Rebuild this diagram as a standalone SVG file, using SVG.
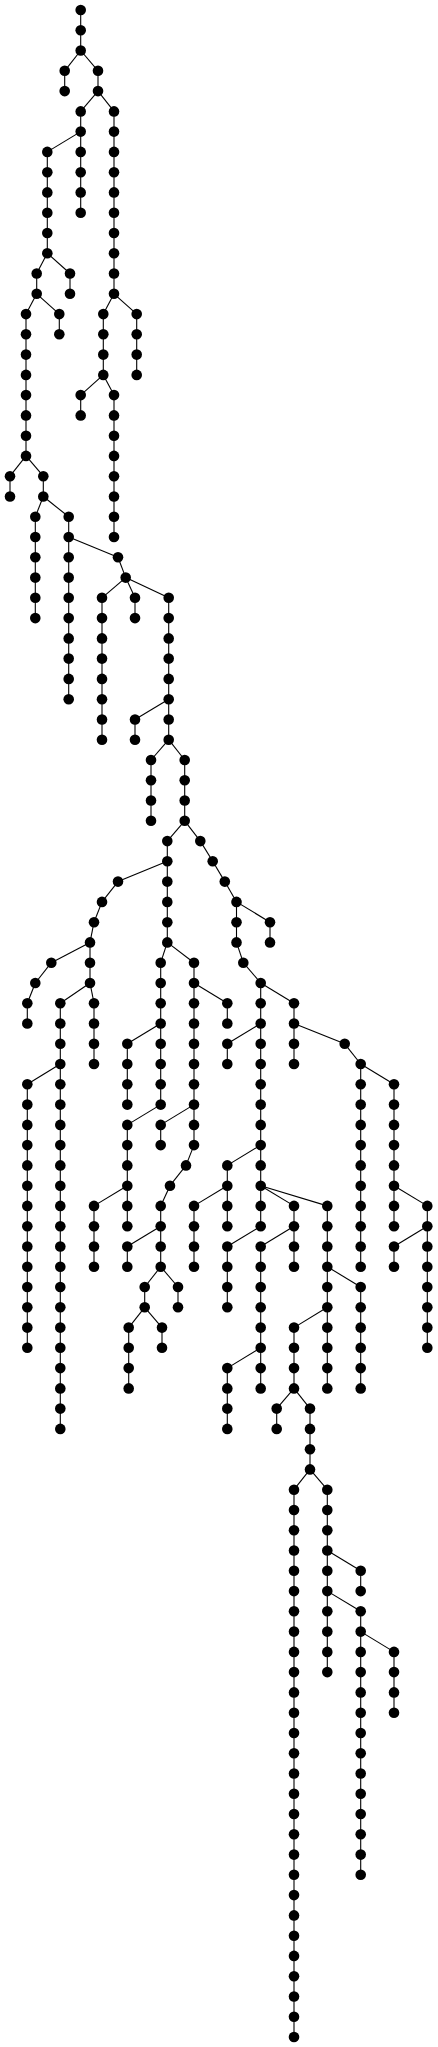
<svg xmlns="http://www.w3.org/2000/svg" width="438" height="2047" viewBox="0 0 438 2047">
<style>
#edges path{stroke:#000;stroke-width:1.1;fill:none}
#nodes circle{fill:#000}
</style>
<rect width="438" height="2047" fill="#fff"/>
<g id="edges">
<path d="M80.7 10V50.5"/><path d="M64.7 70.8V91.1"/><path d="M98 70.8V91.1"/><path d="M80.7 111.4V212.7"/><path d="M114 111.4V293.8"/><path d="M47.3 151.9V253.2"/><path d="M36.7 273.5V293.8"/><path d="M70 273.5V293.8"/><path d="M26 314.1V455.9"/><path d="M59.3 314.1V334.3"/><path d="M10 476.2V496.5"/><path d="M43.3 476.2V496.5"/><path d="M35.3 516.8V618.1"/><path d="M68.7 516.8V699.2"/><path d="M103.3 314.1V374.9"/><path d="M136.7 314.1V374.9"/><path d="M80.7 395.1V415.4"/><path d="M114 395.1V537"/><path d="M102 597.8V739.7"/><path d="M135 597.8V618.1"/><path d="M168.7 597.8V739.7"/><path d="M135 719.5V739.7"/><path d="M151 760V820.8"/><path d="M184.7 760V820.8"/><path d="M167.3 841.1V942.4"/><path d="M236.5 901.9V942.4"/><path d="M270 922.2V942.4"/><path d="M260.7 983V1226.2"/><path d="M294 1003.2V1064"/><path d="M227.3 1043.8V1064"/><path d="M360.7 1064V1266.7"/><path d="M394 1084.3V1226.2"/><path d="M427.3 1205.9V1347.8"/><path d="M394 1246.5V1266.7"/><path d="M227.3 1165.4V1226.2"/><path d="M194 1205.9V1266.7"/><path d="M294 1205.9V1266.7"/><path d="M260.7 1246.5V1388.4"/><path d="M227.3 1368.1V1428.9"/><path d="M327.3 1205.9V1388.4"/><path d="M360.7 1287V1388.4"/><path d="M294 1327.6V1388.4"/><path d="M276.7 1408.6V1428.9"/><path d="M310 1408.6V1469.4"/><path d="M294 1489.7V2037"/><path d="M327.3 1489.7V1672.1"/><path d="M360.7 1570.8V1591.1"/><path d="M360.7 1611.3V1874.8"/><path d="M394 1651.9V1712.7"/><path d="M227.3 1246.5V1307.3"/><path d="M90 942.4V983"/><path d="M27.3 1003.2V1023.5"/><path d="M60.3 1003.2V1428.9"/><path d="M27.3 1084.3V1347.8"/><path d="M94 1003.2V1064"/><path d="M160.7 962.7V1104.6"/><path d="M127.3 1043.8V1104.6"/><path d="M127.3 1124.9V1226.2"/><path d="M94 1205.9V1266.7"/><path d="M194 962.7V1145.1"/><path d="M227.3 1003.2V1023.5"/><path d="M160.7 1124.9V1145.1"/><path d="M160.7 1205.9V1266.7"/><path d="M127.3 1246.5V1266.7"/><path d="M144.7 1287V1307.3"/><path d="M178 1287V1307.3"/><path d="M128.7 1327.6V1388.4"/><path d="M162 1327.6V1347.8"/>
<path d="M80.7 50.5L64.7 70.8"/><path d="M80.7 50.5L98 70.8"/><path d="M98 91.1L80.7 111.4"/><path d="M98 91.1L114 111.4"/><path d="M80.7 131.6L47.3 151.9"/><path d="M47.3 253.2L36.7 273.5"/><path d="M47.3 253.2L70 273.5"/><path d="M36.7 293.8L26 314.1"/><path d="M36.7 293.8L59.3 314.1"/><path d="M26 455.9L10 476.2"/><path d="M26 455.9L43.3 476.2"/><path d="M43.3 496.5L35.3 516.8"/><path d="M43.3 496.5L68.7 516.8"/><path d="M114 293.8L103.3 314.1"/><path d="M114 293.8L136.7 314.1"/><path d="M103.3 374.9L80.7 395.1"/><path d="M103.3 374.9L114 395.1"/><path d="M68.7 537L118 557.3"/><path d="M118 557.3L125.7 577.6"/><path d="M125.7 577.6L102 597.8"/><path d="M125.7 577.6L135 597.8"/><path d="M125.7 577.6L168.7 597.8"/><path d="M168.7 699.2L135 719.5"/><path d="M168.7 739.7L151 760"/><path d="M168.7 739.7L184.7 760"/><path d="M184.7 820.8L167.3 841.1"/><path d="M184.7 820.8L200.3 841.1"/><path d="M200.3 841.1L212.7 861.3"/><path d="M212.7 861.3L224.8 881.6"/><path d="M224.8 881.6L236.5 901.9"/><path d="M236.5 901.9L270 922.2"/><path d="M236.5 942.4L243.3 962.7"/><path d="M243.3 962.7L260.7 983"/><path d="M260.7 983L294 1003.2"/><path d="M294 1023.5L344.7 1043.8"/><path d="M344.7 1043.8L360.7 1064"/><path d="M360.7 1064L394 1084.3"/><path d="M260.7 1023.5L227.3 1043.8"/><path d="M260.7 1145.1L227.3 1165.4"/><path d="M227.3 1185.7L194 1205.9"/><path d="M260.7 1185.7L294 1205.9"/><path d="M260.7 1185.7L327.3 1205.9"/><path d="M394 1185.7L427.3 1205.9"/><path d="M427.3 1226.2L394 1246.5"/><path d="M260.7 1226.2L227.3 1246.5"/><path d="M294 1226.2L260.7 1246.5"/><path d="M327.3 1266.7L360.7 1287"/><path d="M327.3 1307.3L294 1327.6"/><path d="M260.7 1347.8L227.3 1368.1"/><path d="M294 1388.4L276.7 1408.6"/><path d="M294 1388.4L310 1408.6"/><path d="M310 1469.4L294 1489.7"/><path d="M310 1469.4L327.3 1489.7"/><path d="M327.3 1550.5L360.7 1570.8"/><path d="M327.3 1591.1L360.7 1611.3"/><path d="M360.7 1631.6L394 1651.9"/><path d="M167.3 861.3L118 881.6"/><path d="M118 881.6L102 901.9"/><path d="M102 901.9L94 922.2"/><path d="M94 922.2L90 942.4"/><path d="M90 942.4L51.3 962.7"/><path d="M51.3 962.7L35.3 983"/><path d="M35.3 983L27.3 1003.2"/><path d="M90 983L60.3 1003.2"/><path d="M90 983L94 1003.2"/><path d="M60.3 1064L27.3 1084.3"/><path d="M167.3 942.4L160.7 962.7"/><path d="M167.3 942.4L194 962.7"/><path d="M160.7 1023.5L127.3 1043.8"/><path d="M160.7 1104.6L127.3 1124.9"/><path d="M127.3 1185.7L94 1205.9"/><path d="M194 983L227.3 1003.2"/><path d="M194 1104.6L160.7 1124.9"/><path d="M194 1145.1L186 1165.4"/><path d="M186 1165.4L170 1185.7"/><path d="M170 1185.7L160.7 1205.9"/><path d="M160.7 1226.2L127.3 1246.5"/><path d="M160.7 1266.7L144.7 1287"/><path d="M160.7 1266.7L178 1287"/><path d="M144.7 1307.3L128.7 1327.6"/><path d="M144.7 1307.3L162 1327.6"/>
</g>
<g id="nodes">
<g id="n1"><circle cx="80.7" cy="10" r="5.3"/></g>
<g id="n2"><circle cx="80.7" cy="30.3" r="5.3"/></g>
<g id="n3"><circle cx="80.7" cy="50.5" r="5.3"/></g>
<g id="n4"><circle cx="64.7" cy="70.8" r="5.3"/></g>
<g id="n5"><circle cx="64.7" cy="91.1" r="5.3"/></g>
<g id="n6"><circle cx="98" cy="70.8" r="5.3"/></g>
<g id="n7"><circle cx="98" cy="91.1" r="5.3"/></g>
<g id="n8"><circle cx="80.7" cy="111.4" r="5.3"/></g>
<g id="n9"><circle cx="80.7" cy="131.6" r="5.3"/></g>
<g id="n10"><circle cx="80.7" cy="151.9" r="5.3"/></g>
<g id="n11"><circle cx="80.7" cy="172.2" r="5.3"/></g>
<g id="n12"><circle cx="80.7" cy="192.4" r="5.3"/></g>
<g id="n13"><circle cx="80.7" cy="212.7" r="5.3"/></g>
<g id="n14"><circle cx="114" cy="111.4" r="5.3"/></g>
<g id="n15"><circle cx="114" cy="131.6" r="5.3"/></g>
<g id="n16"><circle cx="114" cy="151.9" r="5.3"/></g>
<g id="n17"><circle cx="114" cy="172.2" r="5.3"/></g>
<g id="n18"><circle cx="114" cy="192.4" r="5.3"/></g>
<g id="n19"><circle cx="114" cy="212.7" r="5.3"/></g>
<g id="n20"><circle cx="114" cy="233" r="5.3"/></g>
<g id="n21"><circle cx="114" cy="253.2" r="5.3"/></g>
<g id="n22"><circle cx="114" cy="273.5" r="5.3"/></g>
<g id="n23"><circle cx="114" cy="293.8" r="5.3"/></g>
<g id="n24"><circle cx="47.3" cy="151.9" r="5.3"/></g>
<g id="n25"><circle cx="47.3" cy="172.2" r="5.3"/></g>
<g id="n26"><circle cx="47.3" cy="192.4" r="5.3"/></g>
<g id="n27"><circle cx="47.3" cy="212.7" r="5.3"/></g>
<g id="n28"><circle cx="47.3" cy="233" r="5.3"/></g>
<g id="n29"><circle cx="47.3" cy="253.2" r="5.3"/></g>
<g id="n30"><circle cx="36.7" cy="273.5" r="5.3"/></g>
<g id="n31"><circle cx="36.7" cy="293.8" r="5.3"/></g>
<g id="n32"><circle cx="70" cy="273.5" r="5.3"/></g>
<g id="n33"><circle cx="70" cy="293.8" r="5.3"/></g>
<g id="n34"><circle cx="26" cy="314.1" r="5.3"/></g>
<g id="n35"><circle cx="26" cy="334.3" r="5.3"/></g>
<g id="n36"><circle cx="26" cy="354.6" r="5.3"/></g>
<g id="n37"><circle cx="26" cy="374.9" r="5.3"/></g>
<g id="n38"><circle cx="26" cy="395.1" r="5.3"/></g>
<g id="n39"><circle cx="26" cy="415.4" r="5.3"/></g>
<g id="n40"><circle cx="26" cy="435.7" r="5.3"/></g>
<g id="n41"><circle cx="26" cy="455.9" r="5.3"/></g>
<g id="n42"><circle cx="59.3" cy="314.1" r="5.3"/></g>
<g id="n43"><circle cx="59.3" cy="334.3" r="5.3"/></g>
<g id="n44"><circle cx="10" cy="476.2" r="5.3"/></g>
<g id="n45"><circle cx="10" cy="496.5" r="5.3"/></g>
<g id="n46"><circle cx="43.3" cy="476.2" r="5.3"/></g>
<g id="n47"><circle cx="43.3" cy="496.5" r="5.3"/></g>
<g id="n48"><circle cx="35.3" cy="516.8" r="5.3"/></g>
<g id="n49"><circle cx="35.3" cy="537" r="5.3"/></g>
<g id="n50"><circle cx="35.3" cy="557.3" r="5.3"/></g>
<g id="n51"><circle cx="35.3" cy="577.6" r="5.3"/></g>
<g id="n52"><circle cx="35.3" cy="597.8" r="5.3"/></g>
<g id="n53"><circle cx="35.3" cy="618.1" r="5.3"/></g>
<g id="n54"><circle cx="68.7" cy="516.8" r="5.3"/></g>
<g id="n55"><circle cx="68.7" cy="537" r="5.3"/></g>
<g id="n56"><circle cx="68.7" cy="557.3" r="5.3"/></g>
<g id="n57"><circle cx="68.7" cy="577.6" r="5.3"/></g>
<g id="n58"><circle cx="68.7" cy="597.8" r="5.3"/></g>
<g id="n59"><circle cx="68.7" cy="618.1" r="5.3"/></g>
<g id="n60"><circle cx="68.7" cy="638.4" r="5.3"/></g>
<g id="n61"><circle cx="68.7" cy="658.6" r="5.3"/></g>
<g id="n62"><circle cx="68.7" cy="678.9" r="5.3"/></g>
<g id="n63"><circle cx="68.7" cy="699.2" r="5.3"/></g>
<g id="n64"><circle cx="103.3" cy="314.1" r="5.3"/></g>
<g id="n65"><circle cx="103.3" cy="334.3" r="5.3"/></g>
<g id="n66"><circle cx="103.3" cy="354.6" r="5.3"/></g>
<g id="n67"><circle cx="103.3" cy="374.9" r="5.3"/></g>
<g id="n68"><circle cx="136.7" cy="314.1" r="5.3"/></g>
<g id="n69"><circle cx="136.7" cy="334.3" r="5.3"/></g>
<g id="n70"><circle cx="136.7" cy="354.6" r="5.3"/></g>
<g id="n71"><circle cx="136.7" cy="374.9" r="5.3"/></g>
<g id="n72"><circle cx="80.7" cy="395.1" r="5.3"/></g>
<g id="n73"><circle cx="80.7" cy="415.4" r="5.3"/></g>
<g id="n74"><circle cx="114" cy="395.1" r="5.3"/></g>
<g id="n75"><circle cx="114" cy="415.4" r="5.3"/></g>
<g id="n76"><circle cx="114" cy="435.7" r="5.3"/></g>
<g id="n77"><circle cx="114" cy="455.9" r="5.3"/></g>
<g id="n78"><circle cx="114" cy="476.2" r="5.3"/></g>
<g id="n79"><circle cx="114" cy="496.5" r="5.3"/></g>
<g id="n80"><circle cx="114" cy="516.8" r="5.3"/></g>
<g id="n81"><circle cx="114" cy="537" r="5.3"/></g>
<g id="n82"><circle cx="118" cy="557.3" r="5.3"/></g>
<g id="n83"><circle cx="125.7" cy="577.6" r="5.3"/></g>
<g id="n84"><circle cx="102" cy="597.8" r="5.3"/></g>
<g id="n85"><circle cx="102" cy="618.1" r="5.3"/></g>
<g id="n86"><circle cx="102" cy="638.4" r="5.3"/></g>
<g id="n87"><circle cx="102" cy="658.6" r="5.3"/></g>
<g id="n88"><circle cx="102" cy="678.9" r="5.3"/></g>
<g id="n89"><circle cx="102" cy="699.2" r="5.3"/></g>
<g id="n90"><circle cx="102" cy="719.5" r="5.3"/></g>
<g id="n91"><circle cx="102" cy="739.7" r="5.3"/></g>
<g id="n92"><circle cx="135" cy="597.8" r="5.3"/></g>
<g id="n93"><circle cx="135" cy="618.1" r="5.3"/></g>
<g id="n94"><circle cx="168.7" cy="597.8" r="5.3"/></g>
<g id="n95"><circle cx="168.7" cy="618.1" r="5.3"/></g>
<g id="n96"><circle cx="168.7" cy="638.4" r="5.3"/></g>
<g id="n97"><circle cx="168.7" cy="658.6" r="5.3"/></g>
<g id="n98"><circle cx="168.7" cy="678.9" r="5.3"/></g>
<g id="n99"><circle cx="168.7" cy="699.2" r="5.3"/></g>
<g id="n100"><circle cx="168.7" cy="719.5" r="5.3"/></g>
<g id="n101"><circle cx="168.7" cy="739.7" r="5.3"/></g>
<g id="n102"><circle cx="135" cy="719.5" r="5.3"/></g>
<g id="n103"><circle cx="135" cy="739.7" r="5.3"/></g>
<g id="n104"><circle cx="151" cy="760" r="5.3"/></g>
<g id="n105"><circle cx="151" cy="780.3" r="5.3"/></g>
<g id="n106"><circle cx="151" cy="800.5" r="5.3"/></g>
<g id="n107"><circle cx="151" cy="820.8" r="5.3"/></g>
<g id="n108"><circle cx="184.7" cy="760" r="5.3"/></g>
<g id="n109"><circle cx="184.7" cy="780.3" r="5.3"/></g>
<g id="n110"><circle cx="184.7" cy="800.5" r="5.3"/></g>
<g id="n111"><circle cx="184.7" cy="820.8" r="5.3"/></g>
<g id="n112"><circle cx="167.3" cy="841.1" r="5.3"/></g>
<g id="n113"><circle cx="167.3" cy="861.3" r="5.3"/></g>
<g id="n114"><circle cx="167.3" cy="881.6" r="5.3"/></g>
<g id="n115"><circle cx="167.3" cy="901.9" r="5.3"/></g>
<g id="n116"><circle cx="167.3" cy="922.2" r="5.3"/></g>
<g id="n117"><circle cx="167.3" cy="942.4" r="5.3"/></g>
<g id="n118"><circle cx="200.3" cy="841.1" r="5.3"/></g>
<g id="n119"><circle cx="212.7" cy="861.3" r="5.3"/></g>
<g id="n120"><circle cx="224.8" cy="881.6" r="5.3"/></g>
<g id="n121"><circle cx="236.5" cy="901.9" r="5.3"/></g>
<g id="n122"><circle cx="236.5" cy="922.2" r="5.3"/></g>
<g id="n123"><circle cx="236.5" cy="942.4" r="5.3"/></g>
<g id="n124"><circle cx="270" cy="922.2" r="5.3"/></g>
<g id="n125"><circle cx="270" cy="942.4" r="5.3"/></g>
<g id="n126"><circle cx="243.3" cy="962.7" r="5.3"/></g>
<g id="n127"><circle cx="260.7" cy="983" r="5.3"/></g>
<g id="n128"><circle cx="260.7" cy="1003.2" r="5.3"/></g>
<g id="n129"><circle cx="260.7" cy="1023.5" r="5.3"/></g>
<g id="n130"><circle cx="260.7" cy="1043.8" r="5.3"/></g>
<g id="n131"><circle cx="260.7" cy="1064" r="5.3"/></g>
<g id="n132"><circle cx="260.7" cy="1084.3" r="5.3"/></g>
<g id="n133"><circle cx="260.7" cy="1104.6" r="5.3"/></g>
<g id="n134"><circle cx="260.7" cy="1124.9" r="5.3"/></g>
<g id="n135"><circle cx="260.7" cy="1145.1" r="5.3"/></g>
<g id="n136"><circle cx="260.7" cy="1165.4" r="5.3"/></g>
<g id="n137"><circle cx="260.7" cy="1185.7" r="5.3"/></g>
<g id="n138"><circle cx="260.7" cy="1205.9" r="5.3"/></g>
<g id="n139"><circle cx="260.7" cy="1226.2" r="5.3"/></g>
<g id="n140"><circle cx="294" cy="1003.2" r="5.3"/></g>
<g id="n141"><circle cx="294" cy="1023.5" r="5.3"/></g>
<g id="n142"><circle cx="294" cy="1043.8" r="5.3"/></g>
<g id="n143"><circle cx="294" cy="1064" r="5.3"/></g>
<g id="n144"><circle cx="227.3" cy="1043.8" r="5.3"/></g>
<g id="n145"><circle cx="227.3" cy="1064" r="5.3"/></g>
<g id="n146"><circle cx="344.7" cy="1043.8" r="5.3"/></g>
<g id="n147"><circle cx="360.7" cy="1064" r="5.3"/></g>
<g id="n148"><circle cx="360.7" cy="1084.3" r="5.3"/></g>
<g id="n149"><circle cx="360.7" cy="1104.6" r="5.3"/></g>
<g id="n150"><circle cx="360.7" cy="1124.9" r="5.3"/></g>
<g id="n151"><circle cx="360.7" cy="1145.1" r="5.3"/></g>
<g id="n152"><circle cx="360.7" cy="1165.4" r="5.3"/></g>
<g id="n153"><circle cx="360.7" cy="1185.7" r="5.3"/></g>
<g id="n154"><circle cx="360.7" cy="1205.9" r="5.3"/></g>
<g id="n155"><circle cx="360.7" cy="1226.2" r="5.3"/></g>
<g id="n156"><circle cx="360.7" cy="1246.5" r="5.3"/></g>
<g id="n157"><circle cx="360.7" cy="1266.7" r="5.3"/></g>
<g id="n158"><circle cx="394" cy="1084.3" r="5.3"/></g>
<g id="n159"><circle cx="394" cy="1104.6" r="5.3"/></g>
<g id="n160"><circle cx="394" cy="1124.9" r="5.3"/></g>
<g id="n161"><circle cx="394" cy="1145.1" r="5.3"/></g>
<g id="n162"><circle cx="394" cy="1165.4" r="5.3"/></g>
<g id="n163"><circle cx="394" cy="1185.7" r="5.3"/></g>
<g id="n164"><circle cx="394" cy="1205.9" r="5.3"/></g>
<g id="n165"><circle cx="394" cy="1226.2" r="5.3"/></g>
<g id="n166"><circle cx="427.3" cy="1205.9" r="5.3"/></g>
<g id="n167"><circle cx="427.3" cy="1226.2" r="5.3"/></g>
<g id="n168"><circle cx="427.3" cy="1246.5" r="5.3"/></g>
<g id="n169"><circle cx="427.3" cy="1266.7" r="5.3"/></g>
<g id="n170"><circle cx="427.3" cy="1287" r="5.3"/></g>
<g id="n171"><circle cx="427.3" cy="1307.3" r="5.3"/></g>
<g id="n172"><circle cx="427.3" cy="1327.6" r="5.3"/></g>
<g id="n173"><circle cx="427.3" cy="1347.8" r="5.3"/></g>
<g id="n174"><circle cx="394" cy="1246.5" r="5.3"/></g>
<g id="n175"><circle cx="394" cy="1266.7" r="5.3"/></g>
<g id="n176"><circle cx="227.3" cy="1165.4" r="5.3"/></g>
<g id="n177"><circle cx="227.3" cy="1185.7" r="5.3"/></g>
<g id="n178"><circle cx="227.3" cy="1205.9" r="5.3"/></g>
<g id="n179"><circle cx="227.3" cy="1226.2" r="5.3"/></g>
<g id="n180"><circle cx="194" cy="1205.9" r="5.3"/></g>
<g id="n181"><circle cx="194" cy="1226.2" r="5.3"/></g>
<g id="n182"><circle cx="194" cy="1246.5" r="5.3"/></g>
<g id="n183"><circle cx="194" cy="1266.7" r="5.3"/></g>
<g id="n184"><circle cx="294" cy="1205.9" r="5.3"/></g>
<g id="n185"><circle cx="294" cy="1226.2" r="5.3"/></g>
<g id="n186"><circle cx="294" cy="1246.5" r="5.3"/></g>
<g id="n187"><circle cx="294" cy="1266.7" r="5.3"/></g>
<g id="n188"><circle cx="260.7" cy="1246.5" r="5.3"/></g>
<g id="n189"><circle cx="260.7" cy="1266.7" r="5.3"/></g>
<g id="n190"><circle cx="260.7" cy="1287" r="5.3"/></g>
<g id="n191"><circle cx="260.7" cy="1307.3" r="5.3"/></g>
<g id="n192"><circle cx="260.7" cy="1327.6" r="5.3"/></g>
<g id="n193"><circle cx="260.7" cy="1347.8" r="5.3"/></g>
<g id="n194"><circle cx="260.7" cy="1368.1" r="5.3"/></g>
<g id="n195"><circle cx="260.7" cy="1388.4" r="5.3"/></g>
<g id="n196"><circle cx="227.3" cy="1368.1" r="5.3"/></g>
<g id="n197"><circle cx="227.3" cy="1388.4" r="5.3"/></g>
<g id="n198"><circle cx="227.3" cy="1408.6" r="5.3"/></g>
<g id="n199"><circle cx="227.3" cy="1428.9" r="5.3"/></g>
<g id="n200"><circle cx="327.3" cy="1205.9" r="5.3"/></g>
<g id="n201"><circle cx="327.3" cy="1226.2" r="5.3"/></g>
<g id="n202"><circle cx="327.3" cy="1246.5" r="5.3"/></g>
<g id="n203"><circle cx="327.3" cy="1266.7" r="5.3"/></g>
<g id="n204"><circle cx="327.3" cy="1287" r="5.3"/></g>
<g id="n205"><circle cx="327.3" cy="1307.3" r="5.3"/></g>
<g id="n206"><circle cx="327.3" cy="1327.6" r="5.3"/></g>
<g id="n207"><circle cx="327.3" cy="1347.8" r="5.3"/></g>
<g id="n208"><circle cx="327.3" cy="1368.1" r="5.3"/></g>
<g id="n209"><circle cx="327.3" cy="1388.4" r="5.3"/></g>
<g id="n210"><circle cx="360.7" cy="1287" r="5.3"/></g>
<g id="n211"><circle cx="360.7" cy="1307.3" r="5.3"/></g>
<g id="n212"><circle cx="360.7" cy="1327.6" r="5.3"/></g>
<g id="n213"><circle cx="360.7" cy="1347.8" r="5.3"/></g>
<g id="n214"><circle cx="360.7" cy="1368.1" r="5.3"/></g>
<g id="n215"><circle cx="360.7" cy="1388.4" r="5.3"/></g>
<g id="n216"><circle cx="294" cy="1327.6" r="5.3"/></g>
<g id="n217"><circle cx="294" cy="1347.8" r="5.3"/></g>
<g id="n218"><circle cx="294" cy="1368.1" r="5.3"/></g>
<g id="n219"><circle cx="294" cy="1388.4" r="5.3"/></g>
<g id="n220"><circle cx="276.7" cy="1408.6" r="5.3"/></g>
<g id="n221"><circle cx="276.7" cy="1428.9" r="5.3"/></g>
<g id="n222"><circle cx="310" cy="1408.6" r="5.3"/></g>
<g id="n223"><circle cx="310" cy="1428.9" r="5.3"/></g>
<g id="n224"><circle cx="310" cy="1449.2" r="5.3"/></g>
<g id="n225"><circle cx="310" cy="1469.4" r="5.3"/></g>
<g id="n226"><circle cx="294" cy="1489.7" r="5.3"/></g>
<g id="n227"><circle cx="294" cy="1510" r="5.3"/></g>
<g id="n228"><circle cx="294" cy="1530.3" r="5.3"/></g>
<g id="n229"><circle cx="294" cy="1550.5" r="5.3"/></g>
<g id="n230"><circle cx="294" cy="1570.8" r="5.3"/></g>
<g id="n231"><circle cx="294" cy="1591.1" r="5.3"/></g>
<g id="n232"><circle cx="294" cy="1611.3" r="5.3"/></g>
<g id="n233"><circle cx="294" cy="1631.6" r="5.3"/></g>
<g id="n234"><circle cx="294" cy="1651.9" r="5.3"/></g>
<g id="n235"><circle cx="294" cy="1672.1" r="5.3"/></g>
<g id="n236"><circle cx="294" cy="1692.4" r="5.3"/></g>
<g id="n237"><circle cx="294" cy="1712.7" r="5.3"/></g>
<g id="n238"><circle cx="294" cy="1733" r="5.3"/></g>
<g id="n239"><circle cx="294" cy="1753.2" r="5.3"/></g>
<g id="n240"><circle cx="294" cy="1773.5" r="5.3"/></g>
<g id="n241"><circle cx="294" cy="1793.8" r="5.3"/></g>
<g id="n242"><circle cx="294" cy="1814" r="5.3"/></g>
<g id="n243"><circle cx="294" cy="1834.3" r="5.3"/></g>
<g id="n244"><circle cx="294" cy="1854.6" r="5.3"/></g>
<g id="n245"><circle cx="294" cy="1874.8" r="5.3"/></g>
<g id="n246"><circle cx="294" cy="1895.1" r="5.3"/></g>
<g id="n247"><circle cx="294" cy="1915.4" r="5.3"/></g>
<g id="n248"><circle cx="294" cy="1935.7" r="5.3"/></g>
<g id="n249"><circle cx="294" cy="1955.9" r="5.3"/></g>
<g id="n250"><circle cx="294" cy="1976.2" r="5.3"/></g>
<g id="n251"><circle cx="294" cy="1996.5" r="5.3"/></g>
<g id="n252"><circle cx="294" cy="2016.7" r="5.3"/></g>
<g id="n253"><circle cx="294" cy="2037" r="5.3"/></g>
<g id="n254"><circle cx="327.3" cy="1489.7" r="5.3"/></g>
<g id="n255"><circle cx="327.3" cy="1510" r="5.3"/></g>
<g id="n256"><circle cx="327.3" cy="1530.3" r="5.3"/></g>
<g id="n257"><circle cx="327.3" cy="1550.5" r="5.3"/></g>
<g id="n258"><circle cx="327.3" cy="1570.8" r="5.3"/></g>
<g id="n259"><circle cx="327.3" cy="1591.1" r="5.3"/></g>
<g id="n260"><circle cx="327.3" cy="1611.3" r="5.3"/></g>
<g id="n261"><circle cx="327.3" cy="1631.6" r="5.3"/></g>
<g id="n262"><circle cx="327.3" cy="1651.9" r="5.3"/></g>
<g id="n263"><circle cx="327.3" cy="1672.1" r="5.3"/></g>
<g id="n264"><circle cx="360.7" cy="1570.8" r="5.3"/></g>
<g id="n265"><circle cx="360.7" cy="1591.1" r="5.3"/></g>
<g id="n266"><circle cx="360.7" cy="1611.3" r="5.3"/></g>
<g id="n267"><circle cx="360.7" cy="1631.6" r="5.3"/></g>
<g id="n268"><circle cx="360.7" cy="1651.9" r="5.3"/></g>
<g id="n269"><circle cx="360.7" cy="1672.1" r="5.3"/></g>
<g id="n270"><circle cx="360.7" cy="1692.4" r="5.3"/></g>
<g id="n271"><circle cx="360.7" cy="1712.7" r="5.3"/></g>
<g id="n272"><circle cx="360.7" cy="1733" r="5.3"/></g>
<g id="n273"><circle cx="360.7" cy="1753.2" r="5.3"/></g>
<g id="n274"><circle cx="360.7" cy="1773.5" r="5.3"/></g>
<g id="n275"><circle cx="360.7" cy="1793.8" r="5.3"/></g>
<g id="n276"><circle cx="360.7" cy="1814" r="5.3"/></g>
<g id="n277"><circle cx="360.7" cy="1834.3" r="5.3"/></g>
<g id="n278"><circle cx="360.7" cy="1854.6" r="5.3"/></g>
<g id="n279"><circle cx="360.7" cy="1874.8" r="5.3"/></g>
<g id="n280"><circle cx="394" cy="1651.9" r="5.3"/></g>
<g id="n281"><circle cx="394" cy="1672.1" r="5.3"/></g>
<g id="n282"><circle cx="394" cy="1692.4" r="5.3"/></g>
<g id="n283"><circle cx="394" cy="1712.7" r="5.3"/></g>
<g id="n284"><circle cx="227.3" cy="1246.5" r="5.3"/></g>
<g id="n285"><circle cx="227.3" cy="1266.7" r="5.3"/></g>
<g id="n286"><circle cx="227.3" cy="1287" r="5.3"/></g>
<g id="n287"><circle cx="227.3" cy="1307.3" r="5.3"/></g>
<g id="n288"><circle cx="118" cy="881.6" r="5.3"/></g>
<g id="n289"><circle cx="102" cy="901.9" r="5.3"/></g>
<g id="n290"><circle cx="94" cy="922.2" r="5.3"/></g>
<g id="n291"><circle cx="90" cy="942.4" r="5.3"/></g>
<g id="n292"><circle cx="90" cy="962.7" r="5.3"/></g>
<g id="n293"><circle cx="90" cy="983" r="5.3"/></g>
<g id="n294"><circle cx="51.3" cy="962.7" r="5.3"/></g>
<g id="n295"><circle cx="35.3" cy="983" r="5.3"/></g>
<g id="n296"><circle cx="27.3" cy="1003.2" r="5.3"/></g>
<g id="n297"><circle cx="27.3" cy="1023.5" r="5.3"/></g>
<g id="n298"><circle cx="60.3" cy="1003.2" r="5.3"/></g>
<g id="n299"><circle cx="60.3" cy="1023.5" r="5.3"/></g>
<g id="n300"><circle cx="60.3" cy="1043.8" r="5.3"/></g>
<g id="n301"><circle cx="60.3" cy="1064" r="5.3"/></g>
<g id="n302"><circle cx="60.3" cy="1084.3" r="5.3"/></g>
<g id="n303"><circle cx="60.3" cy="1104.6" r="5.3"/></g>
<g id="n304"><circle cx="60.3" cy="1124.9" r="5.3"/></g>
<g id="n305"><circle cx="60.3" cy="1145.1" r="5.3"/></g>
<g id="n306"><circle cx="60.3" cy="1165.4" r="5.3"/></g>
<g id="n307"><circle cx="60.3" cy="1185.7" r="5.3"/></g>
<g id="n308"><circle cx="60.3" cy="1205.9" r="5.3"/></g>
<g id="n309"><circle cx="60.3" cy="1226.2" r="5.3"/></g>
<g id="n310"><circle cx="60.3" cy="1246.5" r="5.3"/></g>
<g id="n311"><circle cx="60.3" cy="1266.7" r="5.3"/></g>
<g id="n312"><circle cx="60.3" cy="1287" r="5.3"/></g>
<g id="n313"><circle cx="60.3" cy="1307.3" r="5.3"/></g>
<g id="n314"><circle cx="60.3" cy="1327.6" r="5.3"/></g>
<g id="n315"><circle cx="60.3" cy="1347.8" r="5.3"/></g>
<g id="n316"><circle cx="60.3" cy="1368.1" r="5.3"/></g>
<g id="n317"><circle cx="60.3" cy="1388.4" r="5.3"/></g>
<g id="n318"><circle cx="60.3" cy="1408.6" r="5.3"/></g>
<g id="n319"><circle cx="60.3" cy="1428.9" r="5.3"/></g>
<g id="n320"><circle cx="27.3" cy="1084.3" r="5.3"/></g>
<g id="n321"><circle cx="27.3" cy="1104.6" r="5.3"/></g>
<g id="n322"><circle cx="27.3" cy="1124.9" r="5.3"/></g>
<g id="n323"><circle cx="27.3" cy="1145.1" r="5.3"/></g>
<g id="n324"><circle cx="27.3" cy="1165.4" r="5.3"/></g>
<g id="n325"><circle cx="27.3" cy="1185.7" r="5.3"/></g>
<g id="n326"><circle cx="27.3" cy="1205.9" r="5.3"/></g>
<g id="n327"><circle cx="27.3" cy="1226.2" r="5.3"/></g>
<g id="n328"><circle cx="27.3" cy="1246.5" r="5.3"/></g>
<g id="n329"><circle cx="27.3" cy="1266.7" r="5.3"/></g>
<g id="n330"><circle cx="27.3" cy="1287" r="5.3"/></g>
<g id="n331"><circle cx="27.3" cy="1307.3" r="5.3"/></g>
<g id="n332"><circle cx="27.3" cy="1327.6" r="5.3"/></g>
<g id="n333"><circle cx="27.3" cy="1347.8" r="5.3"/></g>
<g id="n334"><circle cx="94" cy="1003.2" r="5.3"/></g>
<g id="n335"><circle cx="94" cy="1023.5" r="5.3"/></g>
<g id="n336"><circle cx="94" cy="1043.8" r="5.3"/></g>
<g id="n337"><circle cx="94" cy="1064" r="5.3"/></g>
<g id="n338"><circle cx="160.7" cy="962.7" r="5.3"/></g>
<g id="n339"><circle cx="160.7" cy="983" r="5.3"/></g>
<g id="n340"><circle cx="160.7" cy="1003.2" r="5.3"/></g>
<g id="n341"><circle cx="160.7" cy="1023.5" r="5.3"/></g>
<g id="n342"><circle cx="160.7" cy="1043.8" r="5.3"/></g>
<g id="n343"><circle cx="160.7" cy="1064" r="5.3"/></g>
<g id="n344"><circle cx="160.7" cy="1084.3" r="5.3"/></g>
<g id="n345"><circle cx="160.7" cy="1104.6" r="5.3"/></g>
<g id="n346"><circle cx="127.3" cy="1043.8" r="5.3"/></g>
<g id="n347"><circle cx="127.3" cy="1064" r="5.3"/></g>
<g id="n348"><circle cx="127.3" cy="1084.3" r="5.3"/></g>
<g id="n349"><circle cx="127.3" cy="1104.6" r="5.3"/></g>
<g id="n350"><circle cx="127.3" cy="1124.9" r="5.3"/></g>
<g id="n351"><circle cx="127.3" cy="1145.1" r="5.3"/></g>
<g id="n352"><circle cx="127.3" cy="1165.4" r="5.3"/></g>
<g id="n353"><circle cx="127.3" cy="1185.7" r="5.3"/></g>
<g id="n354"><circle cx="127.3" cy="1205.9" r="5.3"/></g>
<g id="n355"><circle cx="127.3" cy="1226.2" r="5.3"/></g>
<g id="n356"><circle cx="94" cy="1205.9" r="5.3"/></g>
<g id="n357"><circle cx="94" cy="1226.2" r="5.3"/></g>
<g id="n358"><circle cx="94" cy="1246.5" r="5.3"/></g>
<g id="n359"><circle cx="94" cy="1266.7" r="5.3"/></g>
<g id="n360"><circle cx="194" cy="962.7" r="5.3"/></g>
<g id="n361"><circle cx="194" cy="983" r="5.3"/></g>
<g id="n362"><circle cx="194" cy="1003.2" r="5.3"/></g>
<g id="n363"><circle cx="194" cy="1023.5" r="5.3"/></g>
<g id="n364"><circle cx="194" cy="1043.8" r="5.3"/></g>
<g id="n365"><circle cx="194" cy="1064" r="5.3"/></g>
<g id="n366"><circle cx="194" cy="1084.3" r="5.3"/></g>
<g id="n367"><circle cx="194" cy="1104.6" r="5.3"/></g>
<g id="n368"><circle cx="194" cy="1124.9" r="5.3"/></g>
<g id="n369"><circle cx="194" cy="1145.1" r="5.3"/></g>
<g id="n370"><circle cx="227.3" cy="1003.2" r="5.3"/></g>
<g id="n371"><circle cx="227.3" cy="1023.5" r="5.3"/></g>
<g id="n372"><circle cx="160.7" cy="1124.9" r="5.3"/></g>
<g id="n373"><circle cx="160.7" cy="1145.1" r="5.3"/></g>
<g id="n374"><circle cx="186" cy="1165.4" r="5.3"/></g>
<g id="n375"><circle cx="170" cy="1185.7" r="5.3"/></g>
<g id="n376"><circle cx="160.7" cy="1205.9" r="5.3"/></g>
<g id="n377"><circle cx="160.7" cy="1226.2" r="5.3"/></g>
<g id="n378"><circle cx="160.7" cy="1246.5" r="5.3"/></g>
<g id="n379"><circle cx="160.7" cy="1266.7" r="5.3"/></g>
<g id="n380"><circle cx="127.3" cy="1246.5" r="5.3"/></g>
<g id="n381"><circle cx="127.3" cy="1266.7" r="5.3"/></g>
<g id="n382"><circle cx="144.7" cy="1287" r="5.3"/></g>
<g id="n383"><circle cx="144.7" cy="1307.3" r="5.3"/></g>
<g id="n384"><circle cx="178" cy="1287" r="5.3"/></g>
<g id="n385"><circle cx="178" cy="1307.3" r="5.3"/></g>
<g id="n386"><circle cx="128.7" cy="1327.6" r="5.3"/></g>
<g id="n387"><circle cx="128.7" cy="1347.8" r="5.3"/></g>
<g id="n388"><circle cx="128.7" cy="1368.1" r="5.3"/></g>
<g id="n389"><circle cx="128.7" cy="1388.4" r="5.3"/></g>
<g id="n390"><circle cx="162" cy="1327.6" r="5.3"/></g>
<g id="n391"><circle cx="162" cy="1347.8" r="5.3"/></g>
</g>
</svg>
